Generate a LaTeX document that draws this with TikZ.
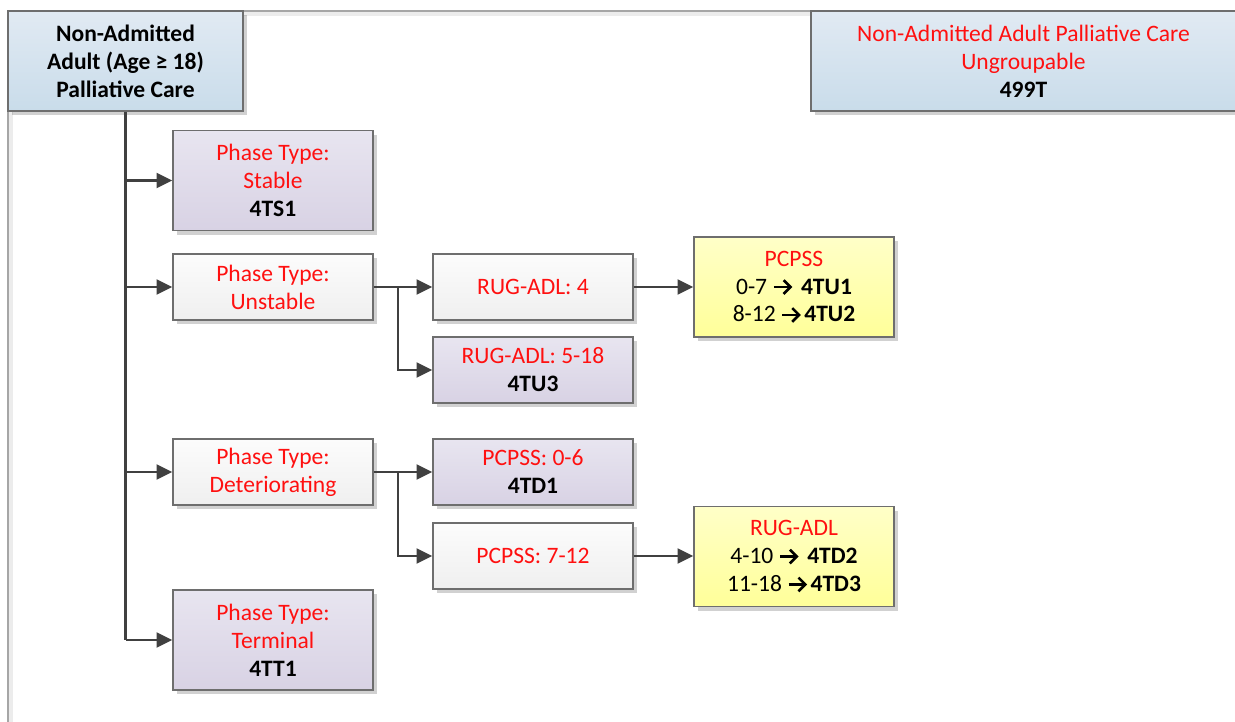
\documentclass[tikz,border=0pt]{standalone}
\usepackage{fontspec}
\setmainfont{Carlito}
\usetikzlibrary{arrows.meta,shadows}
\definecolor{edgegray}{HTML}{6E6E6E}
\definecolor{linegray}{HTML}{404040}
\definecolor{labelred}{HTML}{FF1010}
\definecolor{blueT}{HTML}{E1EAF3}
\definecolor{blueB}{HTML}{C9DCEA}
\definecolor{purpT}{HTML}{E8E5F0}
\definecolor{purpB}{HTML}{D8D2E4}
\definecolor{whiteT}{HTML}{FCFCFC}
\definecolor{whiteB}{HTML}{EFEFEF}
\definecolor{yelT}{HTML}{FFFFC8}
\definecolor{yelB}{HTML}{FFFF99}
\newcommand{\rt}[1]{\textcolor{labelred}{#1}}
% bold open-headed arrow used inside the range labels
\newsavebox{\arrowglyph}
\sbox{\arrowglyph}{\begin{pgfpicture}
  \pgfsetlinewidth{1.5pt}\pgfsetmiterjoin
  \pgfpathmoveto{\pgfpoint{0pt}{4pt}}\pgfpathlineto{\pgfpoint{9.4pt}{4pt}}
  \pgfusepath{stroke}
  \pgfpathmoveto{\pgfpoint{5.6pt}{7.9pt}}\pgfpathlineto{\pgfpoint{9.5pt}{4pt}}
  \pgfpathlineto{\pgfpoint{5.6pt}{0.1pt}}
  \pgfusepath{stroke}
  \pgfsetbaseline{0pt}
\end{pgfpicture}}
\newcommand{\ra}{\ \usebox{\arrowglyph}\,}
\tikzset{
  box/.style={draw=edgegray, line width=0.8pt, align=center, inner sep=2pt,
    font=\fontsize{13.4}{15.9}\selectfont,
    drop shadow={shadow xshift=2.5pt, shadow yshift=-2.5pt, fill=black, opacity=0.18}},
  bluebox/.style={box, top color=blueT, bottom color=blueB},
  purplebox/.style={box, top color=purpT, bottom color=purpB},
  whitebox/.style={box, top color=whiteT, bottom color=whiteB},
  yellowbox/.style={box, top color=yelT, bottom color=yelB},
  wide/.style={minimum width=4cm},
  tall/.style={minimum height=2cm},
  short/.style={minimum height=1.32cm},
  conn/.style={draw=linegray, line width=1.2pt},
  arr/.style={conn, -{Triangle[length=9pt, width=8.5pt]}},
}
\begin{document}
\begin{tikzpicture}[x=0.02cm, y=-0.02cm]
  \useasboundingbox (0,0) rectangle (1235,722);
  % page frame
  \draw[gray!70, line width=1pt] (8,722) -- (8,11) -- (1235,11);
  \draw[gray!15, line width=2pt] (11,722) -- (11,14) -- (1235,14);

  % top row
  \node[bluebox, minimum width=4.7cm, tall] (root) at (125.5,61)
    {\bfseries Non-Admitted\\ \bfseries Adult (Age ≥ 18)\\ \bfseries Palliative Care};
  \node[bluebox, minimum width=8.5cm, tall] (ungroup) at (1023.5,61)
    {\rt{Non-Admitted Adult Palliative Care}\\ \rt{Ungroupable}\\ \bfseries 499T};

  % phase types
  \node[purplebox, wide, tall] (stable) at (273,180.5)
    {\rt{Phase Type:}\\ \rt{Stable}\\ \bfseries 4TS1};
  \node[whitebox, wide, short] (unstable) at (273,287)
    {\rt{Phase Type:}\\ \rt{Unstable}};
  \node[whitebox, wide, short] (deter) at (273,472)
    {\rt{Phase Type:}\\ \rt{Deteriorating}};
  \node[purplebox, wide, tall] (terminal) at (273,640)
    {\rt{Phase Type:}\\ \rt{Terminal}\\ \bfseries 4TT1};

  % unstable split
  \node[whitebox, wide, short] (rug4) at (533,287) {\rt{RUG-ADL: 4}};
  \node[purplebox, wide, short] (rug518) at (533,370)
    {\rt{RUG-ADL: 5-18}\\ \bfseries 4TU3};
  \node[yellowbox, wide, tall] (pcpssU) at (794,287)
    {\rt{PCPSS}\\ 0-7\ra\ \textbf{4TU1}\\ 8-12\ra\textbf{4TU2}};

  % deteriorating split
  \node[purplebox, wide, short] (pc06) at (533,472)
    {\rt{PCPSS: 0-6}\\ \bfseries 4TD1};
  \node[whitebox, wide, short] (pc712) at (533,556) {\rt{PCPSS: 7-12}};
  \node[yellowbox, wide, tall] (rugD) at (794,556.5)
    {\rt{RUG-ADL}\\ 4-10\ra\ \textbf{4TD2}\\ 11-18\ra\textbf{4TD3}};

  % trunk from the root
  \draw[conn] (root.south) -- (root.south |- terminal.west);
  \draw[arr] (root.south |- stable.west) -- (stable.west);
  \draw[arr] (root.south |- unstable.west) -- (unstable.west);
  \draw[arr] (root.south |- deter.west) -- (deter.west);
  \draw[arr] (root.south |- terminal.west) -- (terminal.west);

  % unstable branch
  \coordinate (ju) at (398,287);
  \draw[arr] (unstable.east) -- (rug4.west);
  \draw[arr] (ju) |- (rug518.west);
  \draw[arr] (rug4.east) -- (pcpssU.west);

  % deteriorating branch
  \coordinate (jd) at (398,472);
  \draw[arr] (deter.east) -- (pc06.west);
  \draw[arr] (jd) |- (pc712.west);
  \draw[arr] (pc712.east) -- (pc712.east -| rugD.west);
\end{tikzpicture}
\end{document}
